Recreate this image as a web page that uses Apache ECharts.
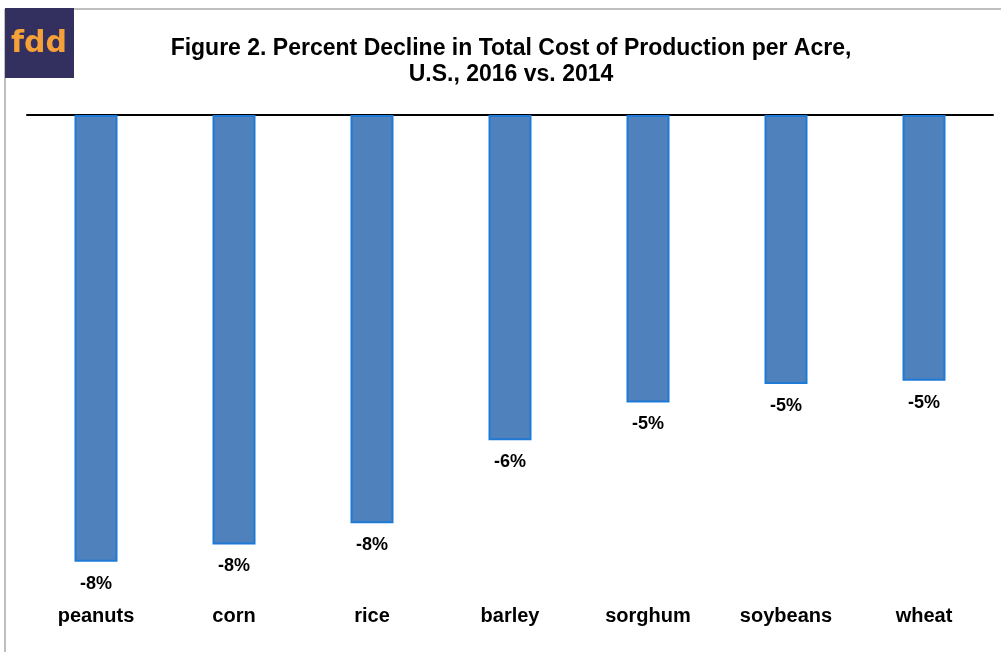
<!DOCTYPE html>
<html>
<head>
<meta charset="utf-8">
<script src="https://cdn.jsdelivr.net/npm/echarts@6/dist/echarts.min.js"></script>
<style>
  html, body { margin: 0; padding: 0; background: #fff; }
  #chart { width: 1001px; height: 652px; }
</style>
</head>
<body>
<div id="chart"></div>
<script>
// crops, 2016 vs 2014 change in total cost per acre (%)
const crops = ['peanuts', 'corn', 'rice', 'barley', 'sorghum', 'soybeans', 'wheat'];
const pctChange = [-8.24, -7.92, -7.53, -6.0, -5.3, -4.96, -4.9];
const titleLines = ['Figure 2. Percent Decline in Total Cost of Production per Acre,', 'U.S., 2016 vs. 2014'];

const chart = echarts.init(document.getElementById('chart'));
chart.setOption({
    animation: false,
    title: {
        text: titleLines.join('\n'),
        left: 506,
        textAlign: 'center',
        top: 31,
        textStyle: {
            fontFamily: 'Liberation Sans, Arial, sans-serif',
            fontWeight: 'bold',
            fontSize: 23,
            lineHeight: 26,
            color: '#000'
        }
    },
    graphic: [
        // frame
        { type: 'line', shape: { x1: 5, y1: 9, x2: 1001, y2: 9 }, style: { stroke: '#bfbfbf', lineWidth: 2 } },
        { type: 'line', shape: { x1: 5, y1: 9, x2: 5, y2: 652 }, style: { stroke: '#bfbfbf', lineWidth: 2 } },
        // logo
        { type: 'rect', shape: { x: 5, y: 8, width: 69, height: 70 }, style: { fill: '#33305f' } },
        {
            type: 'text', x: 39, y: 44,
            style: {
                text: 'fdd', fill: '#f6a138', align: 'center', verticalAlign: 'middle',
                font: 'bold 30px "DejaVu Sans", sans-serif'
            }
        }
    ],
    grid: { left: 27, right: 8, top: 115, bottom: 49, containLabel: false },
    xAxis: [
        {
            type: 'category',
            data: crops,
            position: 'bottom',
            axisLine: { show: false, onZero: false },
            axisTick: { show: false },
            axisLabel: {
                margin: 3,
                fontFamily: 'Liberation Sans, Arial, sans-serif',
                fontWeight: 'bold',
                fontSize: 20,
                color: '#000'
            }
        },
        {
            type: 'category',
            data: crops,
            position: 'top',
            axisLine: { show: true, onZero: false, lineStyle: { color: '#000', width: 2 } },
            axisTick: { show: false },
            axisLabel: { show: false }
        }
    ],
    yAxis: {
        type: 'value',
        min: -9,
        max: 0,
        show: false,
        splitLine: { show: false }
    },
    series: [{
        type: 'bar',
        xAxisIndex: 0,
        data: pctChange,
        barWidth: 43,
        itemStyle: { color: '#4f81bd', borderColor: '#1f7ad6', borderWidth: 2 },
        label: {
            show: true,
            position: 'bottom',
            distance: 13,
            formatter: p => Math.round(p.value) + '%',
            fontFamily: 'Liberation Sans, Arial, sans-serif',
            fontWeight: 'bold',
            fontSize: 18,
            color: '#000'
        }
    }]
});
</script>
</body>
</html>
